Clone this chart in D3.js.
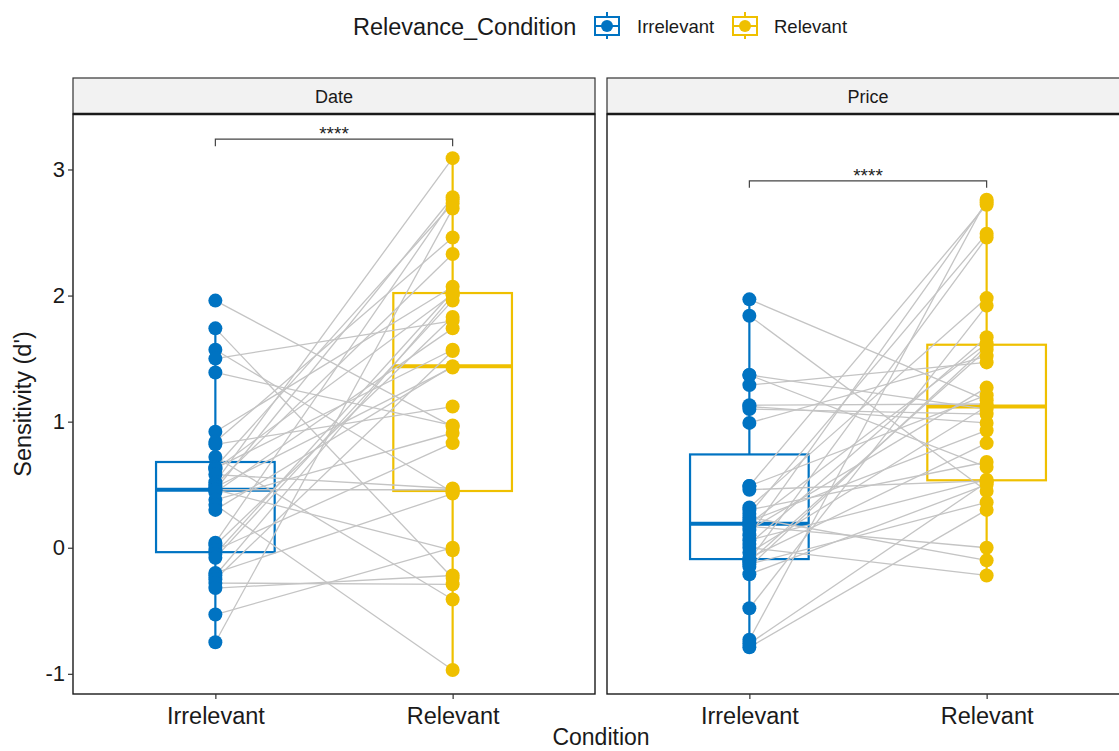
<!DOCTYPE html>
<html>
<head>
<meta charset="utf-8">
<script src="https://cdn.jsdelivr.net/npm/d3@7"></script>
<style>
  body { margin: 0; background: #fff; }
  text { font-family: "Liberation Sans", Arial, sans-serif; }
</style>
</head>
<body>
<div id="chart"></div>
<script>
// --- data (one entry per subject, paired by index) ---
const panels = ["Date", "Price"];
const conditions = ["Irrelevant", "Relevant"];
const dateIrrelevant = [1.96, 1.74, 1.57, 1.50, 1.39, 0.92, 0.84, 0.82, 0.72, 0.64, 0.63, 0.62, 0.58, 0.52, 0.50, 0.48, 0.46, 0.46,
  0.46, 0.44, 0.38, 0.34, 0.30, 0.04, 0.02, -0.02, -0.05, -0.08, -0.20, -0.22, -0.25, -0.28, -0.32, -0.53, -0.75];
const dateRelevant = [0.96, -0.24, 0.44, 1.80, 0.97, 2.07, 2.46, 1.12, -0.41, 2.73, 1.57, 2.01, 0.47, 3.09, 2.33, 1.43, 0.46, 2.78,
  -0.02, 1.74, 0.91, -0.97, 1.44, 2.76, 1.83, 0.83, 2.03, 1.96, 0.43, 2.00, 1.56, -0.29, -0.22, 0.00, 2.69];
const priceIrrelevant = [1.97, 1.84, 1.37, 1.37, 1.29, 1.13, 1.12, 1.10, 0.99, 0.49, 0.49, 0.46, 0.32, 0.30, 0.27, 0.24, 0.21, 0.19,
  0.17, 0.14, 0.10, 0.06, 0.03, 0.00, -0.04, -0.08, -0.10, -0.11, -0.13, -0.15, -0.21, -0.48, -0.73, -0.76, -0.79];
const priceRelevant = [1.17, 0.45, 1.10, 0.64, 1.47, 1.14, 0.99, 1.06, 1.52, 2.72, 1.21, 0.53, 1.98, 0.68, 2.49, -0.10, 0.93, 1.62,
  0.00, 1.27, 2.74, 0.54, 1.67, -0.22, 1.12, 0.83, 2.46, 1.57, 0.36, 1.60, 0.50, 1.92, 2.76, 0.52, 0.30];
const sigLabels = ["****", "****"];
const yTicks = [-1, 0, 1, 2, 3];

const panelData = {
  Date: { Irrelevant: dateIrrelevant, Relevant: dateRelevant },
  Price: { Irrelevant: priceIrrelevant, Relevant: priceRelevant }
};

const colors = { Irrelevant: "#0073C2", Relevant: "#EFC000" };

const width = 1119, height = 751;
const panelW = 522, panelTop = 114, panelBottom = 694, stripTop = 78;
const panelX = [73, 607];

const svg = d3.select("#chart").append("svg")
  .attr("width", width)
  .attr("height", height);

const y = d3.scaleLinear().domain([-1.16, 3.44]).range([panelBottom, panelTop]);
const x = d3.scalePoint().domain(conditions).range([0, panelW]).padding(0.6);
const boxW = x.step() * 0.5;

function boxStats(v) {
  const s = v.slice().sort(d3.ascending);
  const q1 = d3.quantile(s, 0.25), med = d3.quantile(s, 0.5), q3 = d3.quantile(s, 0.75);
  const iqr = q3 - q1;
  const lo = d3.min(s.filter(d => d >= q1 - 1.5 * iqr));
  const hi = d3.max(s.filter(d => d <= q3 + 1.5 * iqr));
  return { q1, med, q3, lo, hi };
}

panels.forEach((p, pi) => {
  const g = svg.append("g").attr("transform", `translate(${panelX[pi]},0)`);
  const irr = panelData[p].Irrelevant, rel = panelData[p].Relevant;

  // Boxplots
  conditions.forEach(c => {
    const st = boxStats(panelData[p][c]);
    const cx = x(c);
    g.append("line")
      .attr("x1", cx).attr("x2", cx)
      .attr("y1", y(st.hi)).attr("y2", y(st.lo))
      .attr("stroke", colors[c]).attr("stroke-width", 2.2);
    g.append("rect")
      .attr("x", cx - boxW / 2).attr("width", boxW)
      .attr("y", y(st.q3)).attr("height", y(st.q1) - y(st.q3))
      .attr("fill", "#fff").attr("stroke", colors[c]).attr("stroke-width", 2.2);
    g.append("line")
      .attr("x1", cx - boxW / 2).attr("x2", cx + boxW / 2)
      .attr("y1", y(st.med)).attr("y2", y(st.med))
      .attr("stroke", colors[c]).attr("stroke-width", 4);
  });

  // Paired lines
  g.selectAll(".pair")
    .data(d3.range(irr.length))
    .enter().append("line")
    .attr("class", "pair")
    .attr("x1", x("Irrelevant")).attr("y1", i => y(irr[i]))
    .attr("x2", x("Relevant")).attr("y2", i => y(rel[i]))
    .attr("stroke", "#C4C4C4").attr("stroke-width", 1.3);

  // Points
  conditions.forEach(c => {
    g.selectAll(".pt-" + c)
      .data(panelData[p][c])
      .enter().append("circle")
      .attr("cx", x(c)).attr("cy", d => y(d))
      .attr("r", 7)
      .attr("fill", colors[c]);
  });

  // Significance bracket
  const by = y(d3.max(rel.concat(irr)) + 0.15);
  const tip = 7;
  g.append("path")
    .attr("d", `M${x("Irrelevant")},${by + tip}V${by}H${x("Relevant")}V${by + tip}`)
    .attr("fill", "none").attr("stroke", "#444").attr("stroke-width", 1.2);
  g.append("text")
    .attr("x", (x("Irrelevant") + x("Relevant")) / 2).attr("y", by + 1)
    .attr("text-anchor", "middle").attr("font-size", 19).attr("fill", "#222")
    .text(sigLabels[pi]);

  // Panel border
  g.append("rect")
    .attr("x", 0).attr("y", panelTop).attr("width", panelW).attr("height", panelBottom - panelTop)
    .attr("fill", "none").attr("stroke", "#1a1a1a").attr("stroke-width", 1.4);

  // Strip
  g.append("rect")
    .attr("x", 0).attr("y", stripTop).attr("width", panelW).attr("height", panelTop - stripTop)
    .attr("fill", "#F2F2F2").attr("stroke", "#333").attr("stroke-width", 1.2);
  g.append("line")
    .attr("x1", 0).attr("x2", panelW).attr("y1", panelTop).attr("y2", panelTop)
    .attr("stroke", "#1a1a1a").attr("stroke-width", 2.4);
  g.append("text")
    .attr("x", panelW / 2).attr("y", 103)
    .attr("text-anchor", "middle").attr("font-size", 18).attr("fill", "#1a1a1a")
    .text(p);

  // X axis
  const xAxis = g.append("g")
    .attr("transform", `translate(0,${panelBottom})`)
    .call(d3.axisBottom(x).tickSize(5).tickPadding(8));
  xAxis.select(".domain").remove();
  xAxis.selectAll("line").attr("stroke", "#333").attr("stroke-width", 1.2);
  xAxis.selectAll("text").attr("font-size", 23.5).attr("fill", "#1a1a1a")
    .attr("font-family", "Liberation Sans, Arial, sans-serif");
});

// Y axis
const yAxis = svg.append("g")
  .attr("transform", `translate(${panelX[0]},0)`)
  .call(d3.axisLeft(y).tickValues(yTicks).tickFormat(d => String(d)).tickSize(5).tickPadding(3));
yAxis.select(".domain").remove();
yAxis.selectAll("line").attr("stroke", "#333").attr("stroke-width", 1.2);
yAxis.selectAll("text").attr("font-size", 22).attr("fill", "#1a1a1a")
  .attr("font-family", "Liberation Sans, Arial, sans-serif");

// Axis titles
svg.append("text")
  .attr("x", (panelX[0] + panelX[1] + panelW) / 2).attr("y", 745)
  .attr("text-anchor", "middle").attr("font-size", 23).attr("fill", "#1a1a1a")
  .text("Condition");
svg.append("text")
  .attr("transform", `translate(31,${(panelTop + panelBottom) / 2}) rotate(-90)`)
  .attr("text-anchor", "middle").attr("font-size", 23.5).attr("fill", "#1a1a1a")
  .text("Sensitivity (d')");

// Legend
const legend = svg.append("g");
legend.append("text")
  .attr("x", 353).attr("y", 35)
  .attr("font-size", 23.5).attr("fill", "#1a1a1a")
  .text("Relevance_Condition");
const keyX = [607, 745], labelX = [637, 774];
conditions.forEach((c, i) => {
  const k = legend.append("g").attr("transform", `translate(${keyX[i]},26)`);
  k.append("line").attr("x1", 0).attr("x2", 0).attr("y1", -14).attr("y2", 13)
    .attr("stroke", colors[c]).attr("stroke-width", 2);
  k.append("rect").attr("x", -12).attr("y", -9).attr("width", 24).attr("height", 18)
    .attr("fill", "#fff").attr("stroke", colors[c]).attr("stroke-width", 2);
  k.append("line").attr("x1", -12).attr("x2", 12).attr("y1", 0).attr("y2", 0)
    .attr("stroke", colors[c]).attr("stroke-width", 2);
  k.append("circle").attr("r", 6).attr("fill", colors[c]);
  legend.append("text")
    .attr("x", labelX[i]).attr("y", 33)
    .attr("font-size", 18.5).attr("fill", "#1a1a1a")
    .text(c);
});
</script>
</body>
</html>
